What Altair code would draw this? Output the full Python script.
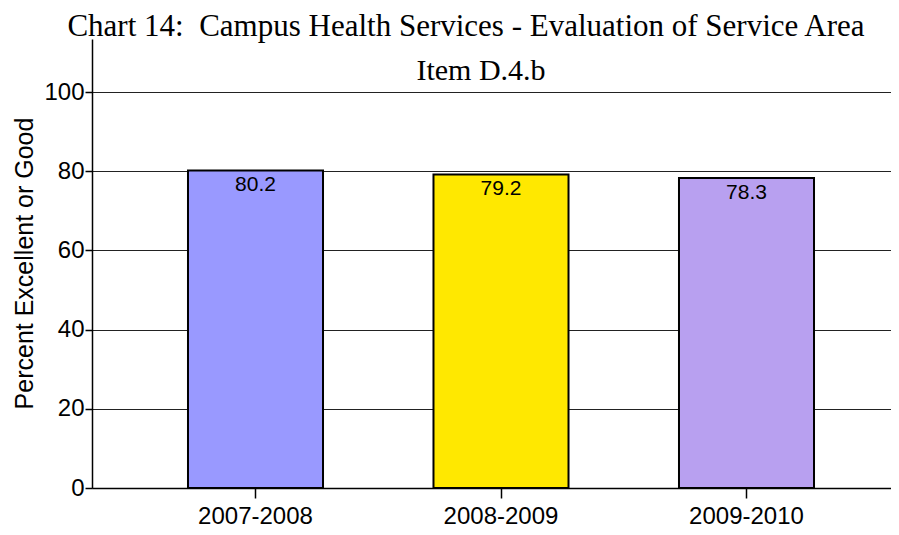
import altair as alt
import pandas as pd

# ---- data ----
years = ["2007-2008", "2008-2009", "2009-2010"]
values = [80.2, 79.2, 78.3]
bar_colors = ["#9999FF", "#FFE800", "#B8A0F0"]
y_ticks = [0, 20, 40, 60, 80, 100]
title_text = "Chart 14:\u00a0 Campus Health Services - Evaluation of Service Area"
subtitle_text = "Item D.4.b"
y_title = "Percent Excellent or Good"

df = pd.DataFrame({
    "year": years,
    "value": values,
    "label": [f"{v:.1f}" for v in values],
})
title_df = pd.DataFrame({"t": [title_text]})
sub_df = pd.DataFrame({"t": [subtitle_text]})

SANS = "Liberation Sans"
SERIF = "Liberation Serif"

x_enc = alt.X(
    "year:N", sort=years, title=None,
    scale=alt.Scale(range=[0, 818], paddingInner=0.45, paddingOuter=0.391),
    axis=alt.Axis(labelAngle=0, labelFont=SANS, labelFontSize=24, labelColor="black",
                  tickSize=10, tickColor="black", tickWidth=1.5, domainColor="black",
                  domainWidth=1.5, labelPadding=6, grid=False),
)
y_enc = alt.Y(
    "value:Q",
    scale=alt.Scale(domain=[0, 113.4], nice=False, zero=True),
    axis=alt.Axis(values=y_ticks, title=y_title, titleFont=SANS, titleFontSize=25,
                  titleFontWeight="normal", titleColor="black", titleX=-60, titleY=224,
                  titleAngle=-90, titleAlign="center", titleBaseline="alphabetic",
                  labelFont=SANS, labelFontSize=24, labelColor="black", labelPadding=1,
                  tickSize=7, tickColor="black", tickWidth=1.5, domainColor="black",
                  domainWidth=1.5, grid=True, gridColor="#222222", gridWidth=1),
)

base = alt.Chart(df)
bars = base.mark_bar(stroke="black", strokeWidth=2).encode(
    x=x_enc, y=y_enc,
    color=alt.Color("year:N", scale=alt.Scale(domain=years, range=bar_colors), legend=None),
)
labels = base.mark_text(baseline="top", dy=4, fontSize=21, font=SANS, color="black").encode(
    x=alt.X("year:N", sort=years), y="value:Q", text="label:N"
)
title = alt.Chart(title_df).mark_text(
    font=SERIF, fontSize=31, baseline="alphabetic", align="center", color="black"
).encode(x=alt.value(374), y=alt.value(-3), text="t:N")
subtitle = alt.Chart(sub_df).mark_text(
    font=SERIF, fontSize=30, baseline="alphabetic", align="center", color="black"
).encode(x=alt.value(389), y=alt.value(41), text="t:N")

chart = alt.layer(bars, labels, title, subtitle).properties(
    width=799, height=449,
    autosize=alt.AutoSizeParams(type="none"),
    padding={"left": 84, "top": 31, "right": 0, "bottom": 39},
).configure_view(stroke=None)

chart.save("out.html", embed_options={"renderer": "svg", "actions": False})
